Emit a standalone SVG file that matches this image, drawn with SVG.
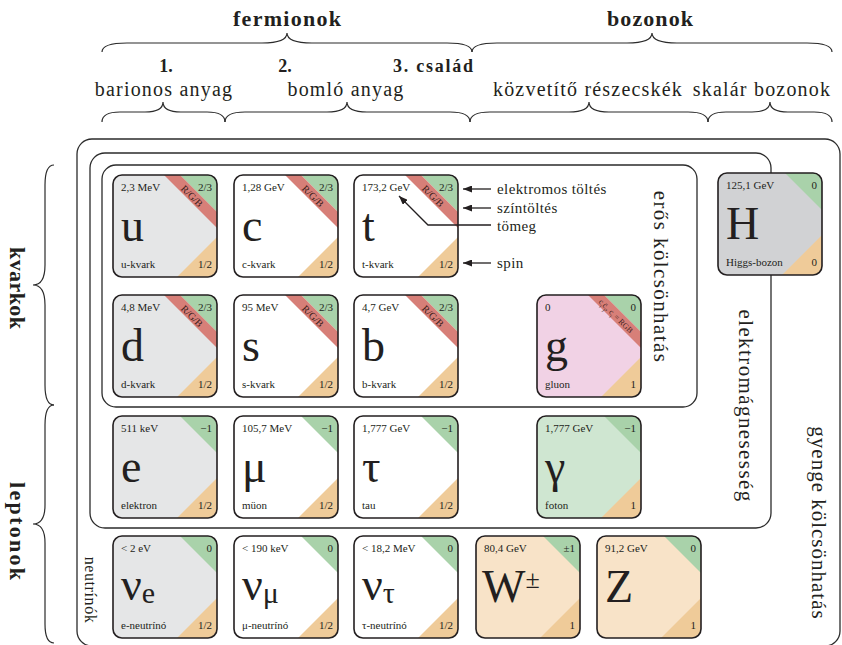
<svg xmlns="http://www.w3.org/2000/svg" xmlns:xlink="http://www.w3.org/1999/xlink" width="842" height="645" viewBox="0 0 842 645" font-family="'Liberation Serif', serif">
<style>
text{font-family:'Liberation Serif',serif;fill:#231f20}
.m{font-size:11px}
.q{font-size:11px;text-anchor:end}
.sym{font-size:46px}
.sub{font-size:30px}
.n{font-size:11px}
.cc{font-size:10px;text-anchor:middle;fill:#3b1c1a}
.ol{fill:none;stroke:#231f20;stroke-width:1.6}
.fr{fill:none;stroke:#2b2b2b;stroke-width:1.3}
.br{fill:none;stroke:#2b2b2b;stroke-width:1.2}
.grn{fill:#a9d2aa}
.red{fill:#d77f78}
.org{fill:#efcb99}
.gy{fill:#e5e6e7}
.wh{fill:#ffffff}
.hg{fill:#d1d2d4}
.pk{fill:#f1d2e5}
.pg{fill:#cfe6d1}
.pe{fill:#f8e3c8}
.hd{font-size:22px;font-weight:bold;text-anchor:middle}
.sh{font-size:20px;text-anchor:middle;letter-spacing:1.2px}
.sb{font-size:18px;font-weight:bold;text-anchor:middle}
.rl{font-size:21px;text-anchor:middle;letter-spacing:1.4px}
.an{font-size:15px;letter-spacing:0.4px}
.ar{fill:none;stroke:#231f20;stroke-width:1.3}
</style>
<defs>
<clipPath id="cc"><rect width="104" height="102" rx="9"/></clipPath>
<polygon id="gT" class="grn" points="67,0 104,0 104,37"/>
<polygon id="rB" class="red" points="51,0 67,0 104,37 104,53"/>
<polygon id="oT" class="org" points="64,102 104,102 104,62"/>
<marker id="ah" markerUnits="userSpaceOnUse" markerWidth="9" markerHeight="7" refX="9" refY="3.5" orient="auto">
<path d="M0,0 L9,3.5 L0,7 z" fill="#231f20"/>
</marker>
</defs>

<g id="headers">
<text class="hd" x="287" y="26" textLength="108">fermionok</text>
<text class="hd" x="650" y="26" textLength="86">bozonok</text>
<text class="sb" x="166" y="72">1.</text>
<text class="sb" x="285" y="72">2.</text>
<text class="sb" x="433" y="72" textLength="80">3. család</text>
<text class="sh" x="164" y="96">barionos anyag</text>
<text class="sh" x="346" y="96">bomló anyag</text>
<text class="sh" x="588" y="96">közvetítő részecskék</text>
<text class="sh" x="762" y="96">skalár bozonok</text>
<text class="hd" transform="translate(18,288) rotate(90)" dy="0.35em" textLength="82">kvarkok</text>
<text class="hd" transform="translate(18,531) rotate(90)" dy="0.35em" textLength="98">leptonok</text>
</g>

<g id="braces">
<path class="br" d="M102,52 Q102,43 127,43 L262,43 Q287,43 287,33 Q287,43 312,43 L447,43 Q472,43 472,52"/>
<path class="br" d="M472,52 Q472,43 497,43 L627,43 Q652,43 652,33 Q652,43 677,43 L807,43 Q832,43 832,52"/>
<path class="br" d="M102,122 Q102,112 120,112 L145,112 Q163,112 163,102 Q163,112 181,112 L207,112 Q225,112 225,122"/>
<path class="br" d="M225,122 Q225,112 245,112 L327,112 Q347,112 347,102 Q347,112 367,112 L450,112 Q470,112 470,122"/>
<path class="br" d="M470,122 Q470,112 490,112 L569,112 Q589,112 589,102 Q589,112 609,112 L688,112 Q708,112 708,122"/>
<path class="br" d="M708,122 Q708,112 726,112 L752,112 Q770,112 770,102 Q770,112 788,112 L814,112 Q832,112 832,122"/>
<path class="br" d="M54,165 Q45,165 45,185 L45,265 Q45,285 33,285 Q45,285 45,305 L45,385 Q45,405 54,405"/>
<path class="br" d="M54,405 Q45,405 45,425 L45,505 Q45,524 33,524 Q45,524 45,543 L45,624 Q45,643 54,643"/>
</g>

<g id="frames">
<rect id="weak" class="fr" x="77" y="139" width="763" height="507" rx="15"/>
<rect id="em" class="fr" x="90" y="153" width="681" height="375" rx="15"/>
<rect id="strong" class="fr" x="102" y="165" width="595" height="242" rx="14"/>
<text class="rl" transform="translate(661,277) rotate(90)" dy="0.35em">erős kölcsönhatás</text>
<text class="rl" transform="translate(746,406) rotate(90)" dy="0.35em">elektromágnesesség</text>
<text class="rl" transform="translate(819,523) rotate(90)" dy="0.35em" style="letter-spacing:1px">gyenge kölcsönhatás</text>
<text transform="translate(91,590) rotate(90)" dy="0.35em" style="font-size:16px;text-anchor:middle;letter-spacing:0.6px">neutrínók</text>
</g>

<g id="card-u" transform="translate(113,175)">
<g clip-path="url(#cc)"><rect class="gy" width="104" height="102"/><use xlink:href="#gT"/><use xlink:href="#rB"/><use xlink:href="#oT"/></g>
<rect class="ol" width="104" height="102" rx="9"/>
<text class="m" x="8" y="16">2,3 MeV</text><text class="q" x="99" y="16">2/3</text>
<text class="cc" transform="translate(79,21) rotate(45)" dy="0.35em">R/G/B</text>
<text class="sym" x="8" y="66">u</text>
<text class="n" x="8" y="93">u-kvark</text><text class="q" x="99" y="93">1/2</text>
</g>
<g id="card-c" transform="translate(234,175)">
<g clip-path="url(#cc)"><rect class="wh" width="104" height="102"/><use xlink:href="#gT"/><use xlink:href="#rB"/><use xlink:href="#oT"/></g>
<rect class="ol" width="104" height="102" rx="9"/>
<text class="m" x="8" y="16">1,28 GeV</text><text class="q" x="99" y="16">2/3</text>
<text class="cc" transform="translate(79,21) rotate(45)" dy="0.35em">R/G/B</text>
<text class="sym" x="8" y="66">c</text>
<text class="n" x="8" y="93">c-kvark</text><text class="q" x="99" y="93">1/2</text>
</g>
<g id="card-t" transform="translate(354,175)">
<g clip-path="url(#cc)"><rect class="wh" width="104" height="102"/><use xlink:href="#gT"/><use xlink:href="#rB"/><use xlink:href="#oT"/></g>
<rect class="ol" width="104" height="102" rx="9"/>
<text class="m" x="8" y="16">173,2 GeV</text><text class="q" x="99" y="16">2/3</text>
<text class="cc" transform="translate(79,21) rotate(45)" dy="0.35em">R/G/B</text>
<text class="sym" x="8" y="66">t</text>
<text class="n" x="8" y="93">t-kvark</text><text class="q" x="99" y="93">1/2</text>
</g>
<g id="card-H" transform="translate(718,173)">
<g clip-path="url(#cc)"><rect class="hg" width="104" height="102"/><use xlink:href="#gT"/><use xlink:href="#oT"/></g>
<rect class="ol" width="104" height="102" rx="9"/>
<text class="m" x="8" y="16">125,1 GeV</text><text class="q" x="99" y="16">0</text>
<text class="sym" x="8" y="66">H</text>
<text class="n" x="8" y="93">Higgs-bozon</text><text class="q" x="99" y="93">0</text>
</g>

<g id="card-d" transform="translate(113,295)">
<g clip-path="url(#cc)"><rect class="gy" width="104" height="102"/><use xlink:href="#gT"/><use xlink:href="#rB"/><use xlink:href="#oT"/></g>
<rect class="ol" width="104" height="102" rx="9"/>
<text class="m" x="8" y="16">4,8 MeV</text><text class="q" x="99" y="16">2/3</text>
<text class="cc" transform="translate(79,21) rotate(45)" dy="0.35em">R/G/B</text>
<text class="sym" x="8" y="66">d</text>
<text class="n" x="8" y="93">d-kvark</text><text class="q" x="99" y="93">1/2</text>
</g>
<g id="card-s" transform="translate(234,295)">
<g clip-path="url(#cc)"><rect class="wh" width="104" height="102"/><use xlink:href="#gT"/><use xlink:href="#rB"/><use xlink:href="#oT"/></g>
<rect class="ol" width="104" height="102" rx="9"/>
<text class="m" x="8" y="16">95 MeV</text><text class="q" x="99" y="16">2/3</text>
<text class="cc" transform="translate(79,21) rotate(45)" dy="0.35em">R/G/B</text>
<text class="sym" x="8" y="66">s</text>
<text class="n" x="8" y="93">s-kvark</text><text class="q" x="99" y="93">1/2</text>
</g>
<g id="card-b" transform="translate(354,295)">
<g clip-path="url(#cc)"><rect class="wh" width="104" height="102"/><use xlink:href="#gT"/><use xlink:href="#rB"/><use xlink:href="#oT"/></g>
<rect class="ol" width="104" height="102" rx="9"/>
<text class="m" x="8" y="16">4,7 GeV</text><text class="q" x="99" y="16">2/3</text>
<text class="cc" transform="translate(79,21) rotate(45)" dy="0.35em">R/G/B</text>
<text class="sym" x="8" y="66">b</text>
<text class="n" x="8" y="93">b-kvark</text><text class="q" x="99" y="93">1/2</text>
</g>
<g id="card-g" transform="translate(537,295)">
<g clip-path="url(#cc)"><rect class="pk" width="104" height="102"/><use xlink:href="#gT"/><use xlink:href="#rB"/><use xlink:href="#oT"/></g>
<rect class="ol" width="104" height="102" rx="9"/>
<text class="m" x="8" y="16">0</text><text class="q" x="99" y="16">0</text>
<text class="cc" transform="translate(79,21) rotate(45)" dy="0.35em" style="font-size:8px">c<tspan baseline-shift="sub" font-size="5.5">i</tspan>c̄<tspan baseline-shift="sub" font-size="5.5">j</tspan>, c<tspan baseline-shift="sub" font-size="5.5">i</tspan> = RGB</text>
<text class="sym" x="8" y="66">g</text>
<text class="n" x="8" y="93">gluon</text><text class="q" x="99" y="93">1</text>
</g>

<g id="card-e" transform="translate(113,416)">
<g clip-path="url(#cc)"><rect class="gy" width="104" height="102"/><use xlink:href="#gT"/><use xlink:href="#oT"/></g>
<rect class="ol" width="104" height="102" rx="9"/>
<text class="m" x="8" y="16">511 keV</text><text class="q" x="99" y="16">−1</text>
<text class="sym" x="8" y="66">e</text>
<text class="n" x="8" y="93">elektron</text><text class="q" x="99" y="93">1/2</text>
</g>
<g id="card-mu" transform="translate(234,416)">
<g clip-path="url(#cc)"><rect class="wh" width="104" height="102"/><use xlink:href="#gT"/><use xlink:href="#oT"/></g>
<rect class="ol" width="104" height="102" rx="9"/>
<text class="m" x="8" y="16">105,7 MeV</text><text class="q" x="99" y="16">−1</text>
<text class="sym" x="8" y="66">μ</text>
<text class="n" x="8" y="93">müon</text><text class="q" x="99" y="93">1/2</text>
</g>
<g id="card-tau" transform="translate(354,416)">
<g clip-path="url(#cc)"><rect class="wh" width="104" height="102"/><use xlink:href="#gT"/><use xlink:href="#oT"/></g>
<rect class="ol" width="104" height="102" rx="9"/>
<text class="m" x="8" y="16">1,777 GeV</text><text class="q" x="99" y="16">−1</text>
<text class="sym" x="8" y="66">τ</text>
<text class="n" x="8" y="93">tau</text><text class="q" x="99" y="93">1/2</text>
</g>
<g id="card-gamma" transform="translate(537,416)">
<g clip-path="url(#cc)"><rect class="pg" width="104" height="102"/><use xlink:href="#gT"/><use xlink:href="#oT"/></g>
<rect class="ol" width="104" height="102" rx="9"/>
<text class="m" x="8" y="16">1,777 GeV</text><text class="q" x="99" y="16">−1</text>
<text class="sym" x="8" y="66">γ</text>
<text class="n" x="8" y="93">foton</text><text class="q" x="99" y="93">1</text>
</g>

<g id="card-nue" transform="translate(113,536)">
<g clip-path="url(#cc)"><rect class="gy" width="104" height="102"/><use xlink:href="#gT"/><use xlink:href="#oT"/></g>
<rect class="ol" width="104" height="102" rx="9"/>
<text class="m" x="8" y="16">&lt; 2 eV</text><text class="q" x="99" y="16">0</text>
<text class="sym" x="8" y="64">ν<tspan class="sub" dy="3">e</tspan></text>
<text class="n" x="8" y="93">e-neutrínó</text><text class="q" x="99" y="93">1/2</text>
</g>
<g id="card-numu" transform="translate(234,536)">
<g clip-path="url(#cc)"><rect class="wh" width="104" height="102"/><use xlink:href="#gT"/><use xlink:href="#oT"/></g>
<rect class="ol" width="104" height="102" rx="9"/>
<text class="m" x="8" y="16">&lt; 190 keV</text><text class="q" x="99" y="16">0</text>
<text class="sym" x="8" y="64">ν<tspan class="sub" dy="3">μ</tspan></text>
<text class="n" x="8" y="93">μ-neutrínó</text><text class="q" x="99" y="93">1/2</text>
</g>
<g id="card-nutau" transform="translate(354,536)">
<g clip-path="url(#cc)"><rect class="wh" width="104" height="102"/><use xlink:href="#gT"/><use xlink:href="#oT"/></g>
<rect class="ol" width="104" height="102" rx="9"/>
<text class="m" x="8" y="16">&lt; 18,2 MeV</text><text class="q" x="99" y="16">0</text>
<text class="sym" x="8" y="64">ν<tspan class="sub" dy="3">τ</tspan></text>
<text class="n" x="8" y="93">τ-neutrínó</text><text class="q" x="99" y="93">1/2</text>
</g>
<g id="card-W" transform="translate(476,536)">
<g clip-path="url(#cc)"><rect class="pe" width="104" height="102"/><use xlink:href="#gT"/><use xlink:href="#oT"/></g>
<rect class="ol" width="104" height="102" rx="9"/>
<text class="m" x="8" y="16">80,4 GeV</text><text class="q" x="99" y="16">±1</text>
<text class="sym" x="6" y="66">W<tspan style="font-size:26px" dy="-14">±</tspan></text>
<text class="q" x="99" y="93">1</text>
</g>
<g id="card-Z" transform="translate(597,536)">
<g clip-path="url(#cc)"><rect class="pe" width="104" height="102"/><use xlink:href="#gT"/><use xlink:href="#oT"/></g>
<rect class="ol" width="104" height="102" rx="9"/>
<text class="m" x="8" y="16">91,2 GeV</text><text class="q" x="99" y="16">0</text>
<text class="sym" x="8" y="66">Z</text>
<text class="q" x="99" y="93">1</text>
</g>

<g id="connectors">
<line class="ar" x1="491" y1="189" x2="463" y2="189" marker-end="url(#ah)"/>
<line class="ar" x1="491" y1="208" x2="463" y2="208" marker-end="url(#ah)"/>
<path class="ar" d="M491,225 H428 L399,196" marker-end="url(#ah)"/>
<line class="ar" x1="491" y1="263" x2="463" y2="263" marker-end="url(#ah)"/>
</g>
<g id="legend">
<text class="an" x="497" y="194">elektromos töltés</text>
<text class="an" x="497" y="213">színtöltés</text>
<text class="an" x="497" y="231">tömeg</text>
<text class="an" x="497" y="268">spin</text>
</g>
</svg>
